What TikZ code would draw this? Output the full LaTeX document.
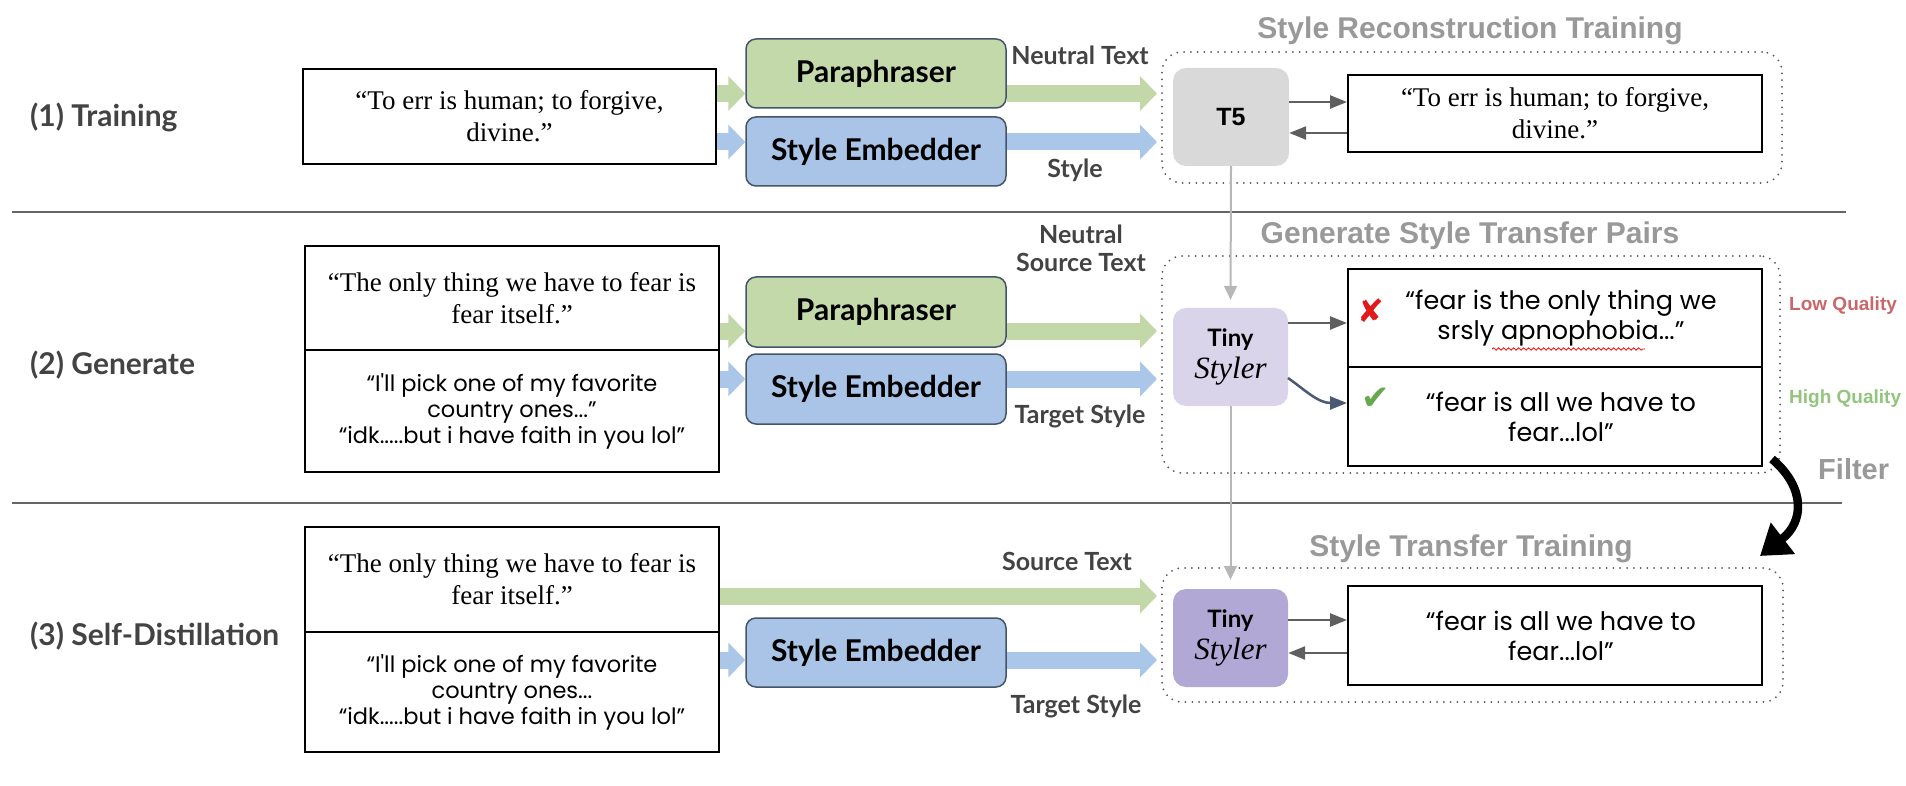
\documentclass[tikz,border=0pt]{standalone}
\usepackage{fontspec}
\usetikzlibrary{arrows.meta,decorations.pathmorphing,calc}
\setmainfont{Liberation Serif}
\newfontfamily\latofont{Lato}
\newfontfamily\arialfont{Liberation Sans}
\newfontfamily\montfont{Poppins}
\newfontfamily\symfont{DejaVu Sans}
\definecolor{pgreen}{HTML}{C4D9AA}
\definecolor{agreen}{HTML}{C3D8A9}
\definecolor{pblue}{HTML}{A9C4E6}
\definecolor{ablue}{HTML}{AAC6E8}
\definecolor{boxborder}{HTML}{44546A}
\definecolor{labgray}{HTML}{434343}
\definecolor{titlegray}{HTML}{999999}
\definecolor{dotgray}{HTML}{555555}
\definecolor{arrowgray}{HTML}{5F5F5F}
\definecolor{vgray}{HTML}{B7B7B7}
\definecolor{divgray}{HTML}{666666}
\definecolor{tfive}{HTML}{D9D9D9}
\definecolor{tinylight}{HTML}{D9D4EA}
\definecolor{tinydark}{HTML}{B1A8D5}
\definecolor{xred}{HTML}{E0191B}
\definecolor{chkgreen}{HTML}{6AA84F}
\definecolor{lowq}{HTML}{C9676B}
\definecolor{highq}{HTML}{93C47D}
\definecolor{curvecol}{HTML}{4A5A75}
\begin{document}
\begin{tikzpicture}[x=1pt,y=-1pt,
  quotebox/.style={draw=black, line width=2pt, inner sep=0pt, align=center, font=\fontsize{27}{32}\selectfont},
  montbox/.style={draw=black, line width=2pt, inner sep=0pt, align=center, font=\montfont\fontsize{22.5}{26}\selectfont},
  outbox/.style={draw=black, line width=2pt, inner sep=0pt, align=center, font=\montfont\fontsize{25.5}{30}\selectfont},
  modbox/.style={draw=boxborder, line width=1.5pt, rounded corners=10pt, minimum width=260pt, minimum height=69pt, inner sep=0pt, font=\latofont\bfseries\fontsize{30}{32}\selectfont},
  tinybox/.style={rounded corners=13pt, minimum width=115pt, minimum height=98pt, inner sep=0pt, align=center},
  lbl/.style={font=\latofont\bfseries\fontsize{25}{28}\selectfont, text=labgray, anchor=base, inner sep=0pt, align=center},
  rowlabel/.style={font=\latofont\bfseries\fontsize{30}{32}\selectfont, text=labgray, anchor=base west, inner sep=0pt},
  title/.style={font=\arialfont\bfseries\fontsize{30}{32}\selectfont, text=titlegray, anchor=base, inner sep=0pt},
  dotbox/.style={draw=dotgray, line width=2pt, line cap=round, dash pattern=on 0pt off 6.8pt, rounded corners=20pt, inner sep=0pt},
  fatgreen/.style={draw=agreen, line width=17pt, -{Triangle[length=17pt,width=34pt]}},
  fatblue/.style={draw=ablue, line width=17pt, -{Triangle[length=17pt,width=34pt]}},
  thinarrow/.style={draw=arrowgray, line width=2.5pt, -{Triangle[length=17pt,width=13pt]}},
  vline/.style={draw=vgray, line width=2pt, -{Triangle[length=14pt,width=13pt]}},
  divider/.style={draw=divgray, line width=2pt},
  qual/.style={font=\arialfont\bfseries\fontsize{19}{22}\selectfont, anchor=base west, inner sep=0pt}
]
\useasboundingbox (0,0) rectangle (1906,786);

% dividers
\draw[divider] (12,212) -- (1846,212);
\draw[divider] (12,503) -- (1842,503);

% ---------- Row 1 ----------
\node[rowlabel] (lab1) at (30,127) {(1) Training};
\node[quotebox, minimum width=413pt, minimum height=95pt] (T1) at (509.5,116.5) {“To err is human; to forgive,\\divine.”};
\node[modbox, fill=pgreen] (P1) at (876,73.5) {Paraphraser};
\node[modbox, fill=pblue] (E1) at (876,151.5) {Style Embedder};
\node[lbl] (nt1) at (1080,65) {Neutral Text};
\node[lbl] (st1) at (1075,178) {Style};
\node[dotbox, minimum width=620pt, minimum height=131pt] (D1) at (1472,117.5) {};
\node[title] (ti1) at (1470,39) {Style Reconstruction Training};
\node[tinybox, fill=tfive, minimum width=116pt] (T5) at (1231,117) {\arialfont\bfseries\fontsize{25}{28}\selectfont T5};
\node[quotebox, minimum width=414pt, minimum height=77pt] (R1) at (1555,113.5) {“To err is human; to forgive,\\divine.”};

\coordinate (g1) at (1157,93.5);
\coordinate (b1) at (1157,142);
\coordinate (a1) at (0,102);
\coordinate (a2) at (0,133);
\draw[fatgreen] (T1.east |- g1) -- (P1.west |- g1);
\draw[fatblue] (T1.east |- b1) -- (E1.west |- b1);
\draw[fatgreen] (P1.east |- g1) -- (g1);
\draw[fatblue] (E1.east |- b1) -- (b1);
\draw[thinarrow] (T5.east |- a1) -- (R1.west |- a1);
\draw[thinarrow] (R1.west |- a2) -- (T5.east |- a2);

% ---------- Row 2 ----------
\node[rowlabel] (lab2) at (30,374) {(2) Generate};
\node[quotebox, minimum width=414pt, minimum height=104pt] (G2top) at (512,298) {“The only thing we have to fear is\\fear itself.”};
\node[montbox, minimum width=414pt, minimum height=122pt] (G2bot) at (512,411) {\raisebox{-4pt}{\parbox{400pt}{\centering “I'll pick one of my favorite\\country ones...”\\“idk.....but i have faith in you lol”}}};
\node[modbox, fill=pgreen, minimum height=70pt] (P2) at (876,312) {Paraphraser};
\node[modbox, fill=pblue, minimum height=70pt] (E2) at (876,389) {Style Embedder};
\node[lbl] (nt2) at (1081,272) {Neutral\\Source Text};
\node[lbl] (ts2) at (1080,423) {Target Style};
\node[dotbox, minimum width=618pt, minimum height=217pt] (D2) at (1471,364.5) {};
\node[title] (ti2) at (1470,244) {Generate Style Transfer Pairs};
\node[tinybox, fill=tinylight] (TS2) at (1230.5,357) {\latofont\bfseries\fontsize{24}{26}\selectfont Tiny\\[5pt]\itshape\fontsize{31}{32}\selectfont Styler};
\node[outbox, minimum width=414pt, minimum height=98pt] (O2top) at (1555,318) {\hspace*{12pt}“fear is the only thing we\\\hspace*{12pt}srsly apnophobia...”};
\node[outbox, minimum width=414pt, minimum height=99pt] (O2bot) at (1555,416.5) {\hspace*{12pt}“fear is all we have to\\\hspace*{12pt}fear...lol”};
\node[font=\symfont\fontsize{32}{32}\selectfont, text=xred, inner sep=0pt] (xm) at (1371,311) {✘};
\node[font=\symfont\fontsize{34}{34}\selectfont, text=chkgreen, inner sep=0pt] (ck) at (1376,399) {✔};
\node[qual, text=lowq] (lq) at (1789,311) {Low Quality};
\node[qual, text=highq] (hq) at (1789,403) {High Quality};
\node[title, anchor=base west, font=\arialfont\bfseries\fontsize{29}{32}\selectfont] (flt) at (1818,479) {Filter};
\draw[red, line width=0.8pt, decorate, decoration={snake, amplitude=1.2pt, segment length=5pt}] (1492,349) -- (1645,349);

\coordinate (g2) at (1157,331);
\coordinate (b2) at (1157,379);
\coordinate (a3) at (0,323);
\draw[fatgreen] (G2top.east |- g2) -- (P2.west |- g2);
\draw[fatblue] (G2bot.east |- b2) -- (E2.west |- b2);
\draw[fatgreen] (P2.east |- g2) -- (g2);
\draw[fatblue] (E2.east |- b2) -- (b2);
\draw[thinarrow] (TS2.east |- a3) -- (O2top.west |- a3);
\coordinate (cs) at (1288,378);
\coordinate (ce) at (1348,403);
\draw[draw=curvecol, line width=2.5pt, -{Triangle[length=17pt,width=13pt]}] (cs) .. controls (1305,390) and (1318,403) .. (O2bot.west |- ce);

% ---------- Row 3 ----------
\node[rowlabel] (lab3) at (30,645) {(3) Self-Distillation};
\node[quotebox, minimum width=414pt, minimum height=105pt] (G3top) at (512,579.5) {“The only thing we have to fear is\\fear itself.”};
\node[montbox, minimum width=414pt, minimum height=120pt] (G3bot) at (512,692) {“I'll pick one of my favorite\\country ones...\\“idk.....but i have faith in you lol”};
\node[modbox, fill=pblue] (E3) at (876,652.5) {Style Embedder};
\node[lbl] (st3) at (1067,570) {Source Text};
\node[lbl] (ts3) at (1076,713) {Target Style};
\node[dotbox, minimum width=621pt, minimum height=134pt] (D3) at (1472.5,635) {};
\node[title] (ti3) at (1471,556) {Style Transfer Training};
\node[tinybox, fill=tinydark] (TS3) at (1230.5,638) {\latofont\bfseries\fontsize{24}{26}\selectfont Tiny\\[5pt]\itshape\fontsize{31}{32}\selectfont Styler};
\node[outbox, minimum width=414pt, minimum height=99pt] (O3) at (1555,635.5) {\hspace*{12pt}“fear is all we have to\\\hspace*{12pt}fear...lol”};

\coordinate (g3) at (1157,596);
\coordinate (b3) at (1157,660);
\coordinate (a5) at (0,620);
\coordinate (a6) at (0,653);
\draw[fatgreen] (G3top.east |- g3) -- (g3);
\draw[fatblue] (G3bot.east |- b3) -- (E3.west |- b3);
\draw[fatblue] (E3.east |- b3) -- (b3);
\draw[thinarrow] (TS3.east |- a5) -- (O3.west |- a5);
\draw[thinarrow] (O3.west |- a6) -- (TS3.east |- a6);

% vertical connectors
\draw[vline, shorten >=8pt] (T5.south) -- (TS2.north);
\draw[vline, shorten >=9pt] (TS2.south) -- (TS3.north);

% filter arrow
\coordinate (f0) at (1772,459);
\coordinate (f1) at (1760,556);
\draw[line width=8.5pt, -{Triangle[length=29pt,width=38pt]}] (f0) .. controls (1806,488) and (1804,522) .. (f1);
\end{tikzpicture}
\end{document}
